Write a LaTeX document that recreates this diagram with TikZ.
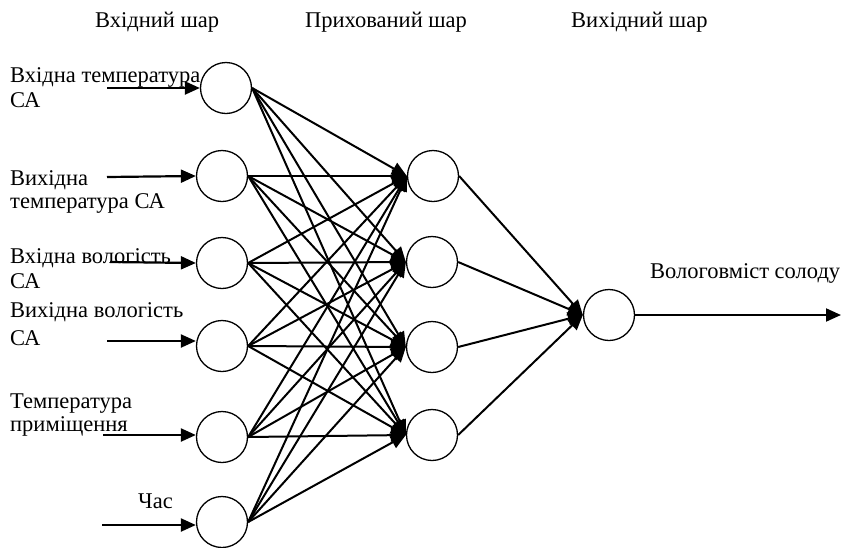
\documentclass[tikz,border=0pt]{standalone}
\usepackage{fontspec}
\setmainfont{Liberation Serif}
\usetikzlibrary{arrows.meta}
\begin{document}
\begin{tikzpicture}[x=1pt,y=-1pt,
  neuron/.style={draw,circle,minimum size=51pt,inner sep=0pt,line width=1.3pt},
  lbl/.style={anchor=base west,inner sep=0pt,font=\fontsize{22.5}{25}\selectfont,align=left},
  edge/.style={line width=2pt,-{Triangle[length=15pt,width=13pt]}},
  inarrow/.style={line width=2.2pt,-{Triangle[length=15pt,width=13pt]}}]
\useasboundingbox (0,0) rectangle (841,547);
% headers
\node[lbl] (h1) at (95,27) {Вхідний шар};
\node[lbl] (h2) at (305,27) {Прихований шар};
\node[lbl] (h3) at (571,27) {Вихідний шар};
% input neurons
\node[neuron] (i1) at (226,88) {};
\node[neuron] (i2) at (222,176) {};
\node[neuron] (i3) at (222,263) {};
\node[neuron] (i4) at (222,346) {};
\node[neuron] (i5) at (222,437) {};
\node[neuron] (i6) at (222,522) {};
% hidden neurons
\node[neuron] (n1) at (433,176) {};
\node[neuron] (n2) at (432,262) {};
\node[neuron] (n3) at (432,347) {};
\node[neuron] (n4) at (432,435) {};
% output neuron
\node[neuron] (o) at (609,315) {};
\coordinate (oend) at (841,315);
% input labels
\node[lbl] (t1) at (10,82) {Вхідна температура};
\node[lbl] (t1b) at (10,107) {СА};
\node[lbl] (t2) at (10,185) {Вихідна};
\node[lbl] (t2b) at (10,208) {температура СА};
\node[lbl] (t3) at (10,263) {Вхідна вологість};
\node[lbl] (t3b) at (10,288) {СА};
\node[lbl] (t4) at (10,317) {Вихідна вологість};
\node[lbl] (t4b) at (10,345) {СА};
\node[lbl] (t5) at (10,408) {Температура};
\node[lbl] (t5b) at (10,431) {приміщення};
\node[lbl] (t6) at (138,508) {Час};
\node[lbl] (tout) at (650,278) {Вологовміст солоду};
% input arrows
\coordinate (s1) at (107,88);
\coordinate (s2) at (107,177);
\coordinate (s3) at (110,262);
\coordinate (s4) at (107,341);
\coordinate (s5) at (103,435);
\coordinate (s6) at (102,525);
\draw[inarrow] (s1) -- (i1.west);
\draw[inarrow] (s2) -- (i2.west);
\draw[inarrow] (s3) -- (i3.west);
\draw[inarrow] (s4) -- (i4.west|-s4);
\draw[inarrow] (s5) -- (i5.west|-s5);
\draw[inarrow] (s6) -- (i6.west|-s6);
% input to hidden
\foreach \i in {1,...,6}{
  \foreach \j in {1,...,4}{
    \draw[edge] (i\i.east) -- (n\j.west);
  }
}
% hidden to output
\foreach \j in {1,...,4}{
  \draw[edge] (n\j.east) -- (o.west);
}
\draw[edge] (o.east) -- (oend);
\end{tikzpicture}
\end{document}
